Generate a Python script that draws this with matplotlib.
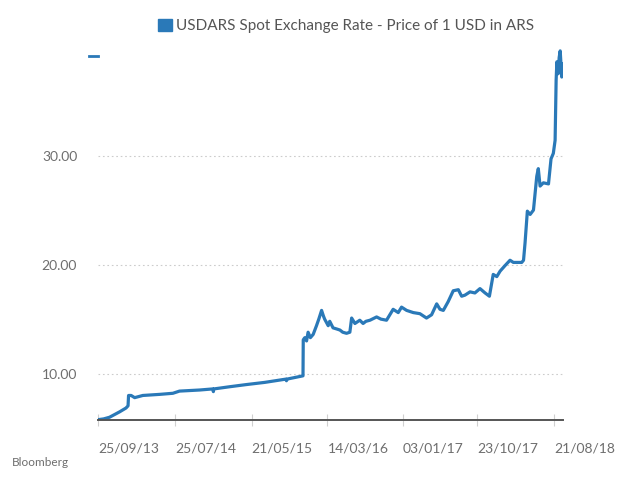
import matplotlib
matplotlib.use("Agg")
import matplotlib.pyplot as plt
from matplotlib.patches import Patch
from matplotlib.lines import Line2D
import pandas as pd

# USDARS spot
dates = [
    "2013-09-25", "2013-10-17", "2013-11-09", "2013-11-29", "2013-12-19",
    "2014-01-13", "2014-01-21", "2014-01-23", "2014-02-02", "2014-02-16",
    "2014-03-20", "2014-05-25", "2014-07-16", "2014-08-11", "2014-10-29",
    "2014-12-20", "2014-12-22", "2014-12-24", "2015-02-24", "2015-05-01",
    "2015-07-12", "2015-10-03", "2015-10-05", "2015-10-07", "2015-12-09",
    "2015-12-10", "2015-12-16", "2015-12-23", "2015-12-29", "2016-01-07",
    "2016-01-18", "2016-01-31", "2016-02-09", "2016-02-20", "2016-02-27",
    "2016-03-03", "2016-03-10", "2016-03-17", "2016-03-23", "2016-04-05",
    "2016-04-19", "2016-05-02", "2016-05-13", "2016-05-28", "2016-06-10",
    "2016-06-17", "2016-06-30", "2016-07-19", "2016-08-01", "2016-08-12",
    "2016-08-28", "2016-09-23", "2016-10-10", "2016-11-01", "2016-11-14",
    "2016-11-27", "2016-12-17", "2016-12-30", "2017-01-19", "2017-02-14",
    "2017-03-12", "2017-04-07", "2017-04-27", "2017-05-17", "2017-05-30",
    "2017-06-12", "2017-07-01", "2017-07-21", "2017-08-10", "2017-08-23",
    "2017-09-05", "2017-09-25", "2017-10-14", "2017-11-03", "2017-11-23",
    "2017-12-10", "2017-12-25", "2018-01-08", "2018-01-21", "2018-02-09",
    "2018-03-01", "2018-03-14", "2018-03-29", "2018-04-16", "2018-04-23",
    "2018-04-29", "2018-05-08", "2018-05-19", "2018-06-01", "2018-06-14",
    "2018-06-20", "2018-06-27", "2018-07-10", "2018-07-30", "2018-08-09",
    "2018-08-18", "2018-08-25", "2018-08-29", "2018-09-01", "2018-09-06",
    "2018-09-10", "2018-09-14", "2018-09-20", "2018-09-24",
]
usdars = [
    5.78, 5.85, 6.00, 6.25, 6.50,
    6.85, 7.05, 8.00, 8.00, 7.80,
    8.00, 8.10, 8.20, 8.40, 8.50,
    8.60, 8.35, 8.60, 8.80, 9.00,
    9.20, 9.50, 9.35, 9.50, 9.80,
    13.10, 13.30, 13.00, 13.80, 13.30,
    13.60, 14.40, 15.00, 15.80, 15.30,
    15.00, 14.70, 14.40, 14.80, 14.20,
    14.10, 14.00, 13.80, 13.70, 13.80,
    15.10, 14.60, 14.90, 14.60, 14.80,
    14.90, 15.20, 15.00, 14.90, 15.40,
    15.90, 15.60, 16.10, 15.80, 15.60,
    15.50, 15.10, 15.40, 16.40, 15.90,
    15.80, 16.60, 17.60, 17.70, 17.10,
    17.20, 17.50, 17.40, 17.80, 17.40,
    17.10, 19.10, 18.90, 19.40, 19.90,
    20.40, 20.20, 20.20, 20.20, 20.40,
    22.00, 24.90, 24.60, 25.00, 28.10,
    28.80, 27.20, 27.50, 27.40, 29.70,
    30.20, 31.40, 36.90, 38.60, 37.50,
    39.00, 39.60, 37.20, 38.40,
]
tick_dates = ["2013-09-25", "2014-07-25", "2015-05-21", "2016-03-14",
              "2017-01-03", "2017-10-23", "2018-08-21"]
tick_labels = ["25/09/13", "25/07/14", "21/05/15", "14/03/16",
               "03/01/17", "23/10/17", "21/08/18"]
y_ticks = [10, 20, 30]
y_labels = ["10.00", "20.00", "30.00"]

plt.rcParams['font.family'] = ['Lato', 'DejaVu Sans']
blue = '#2a79b8'
grey = '#6e6e6e'

df = pd.DataFrame({"date": pd.to_datetime(dates), "rate": usdars})

fig = plt.figure(figsize=(6.4, 4.96), dpi=100, facecolor='white')
ax = fig.add_axes([98 / 640, 76 / 496, 465 / 640, 373.5 / 496])

ax.plot(df["date"], df["rate"], color=blue, lw=2.3, solid_joinstyle='round')

ax.set_xlim(pd.Timestamp("2013-09-25"), pd.Timestamp("2018-09-25"))
ax.set_ylim(5.75, 40)

ax.set_yticks(y_ticks)
ax.set_yticklabels(y_labels)
ax.tick_params(axis='y', length=0, pad=15, labelsize=10, labelcolor=grey)
ax.grid(axis='y', color='#cccccc', linestyle=(0, (1.5, 2.5)), lw=0.8)

ax.set_xticks(pd.to_datetime(tick_dates))
ax.set_xticklabels(tick_labels, ha='left')
ax.tick_params(axis='x', direction='inout', length=9, width=0.8, color='#d0d0d0',
               pad=12, labelsize=10, labelcolor=grey)

for s in ['top', 'right', 'left']:
    ax.spines[s].set_visible(False)
ax.spines['bottom'].set_color('#555555')
ax.spines['bottom'].set_linewidth(1.4)
ax.set_axisbelow(True)

leg = ax.legend(handles=[Patch(color=blue, label='USDARS Spot Exchange Rate - Price of 1 USD in ARS')],
                loc='center', bbox_to_anchor=(346 / 640, 1 - 26 / 496),
                bbox_transform=fig.transFigure, frameon=False, fontsize=11,
                handlelength=0.9, handleheight=0.9, handletextpad=0.25)
for t in leg.get_texts():
    t.set_color('#555555')

# little blue dash at the top left of the chart
fig.add_artist(Line2D([89 / 640, 98 / 640], [1 - 56 / 496, 1 - 56 / 496],
                      color=blue, lw=2, transform=fig.transFigure))

fig.text(12 / 640, 1 - 463 / 496, 'Bloomberg', fontsize=8.5, color=grey, va='center')

plt.savefig('out.png', dpi=100, facecolor='white')
